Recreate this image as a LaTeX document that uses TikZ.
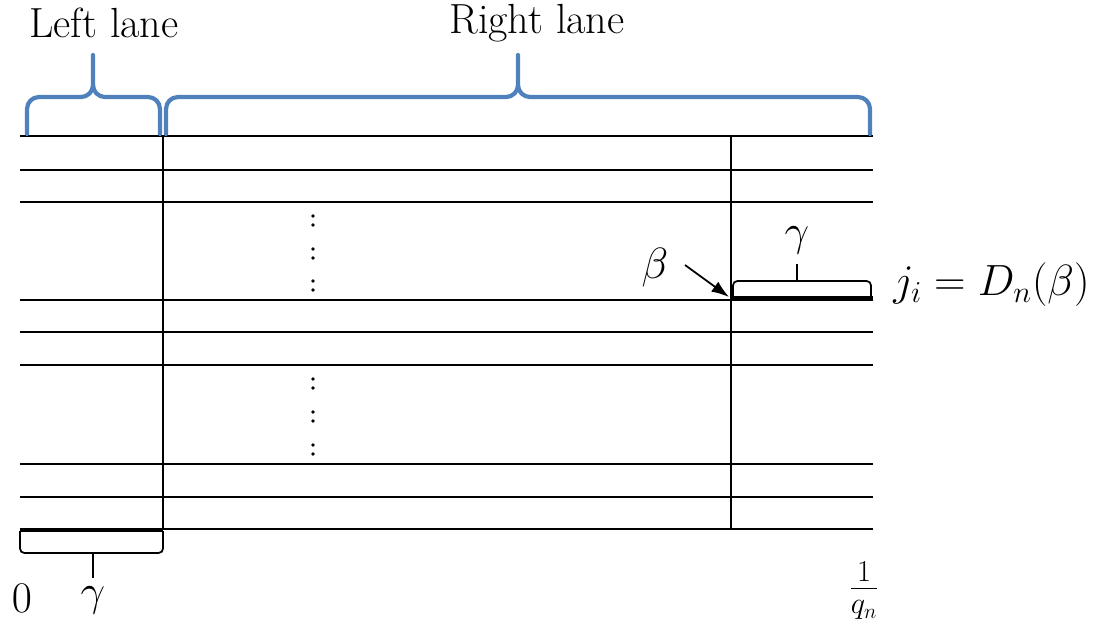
\documentclass[tikz,border=0pt]{standalone}
\usetikzlibrary{arrows.meta}
\definecolor{braceblue}{RGB}{79,129,189}
\tikzset{
  gridline/.style={line width=1.2pt},
  bluebrace/.style={draw=braceblue,line width=2.4pt,line join=round,line cap=round},
  blackbrace/.style={line width=1pt,line join=round},
  thickseg/.style={line width=2.6pt},
  lbl/.style={font=\fontsize{24}{28}\selectfont,inner sep=0pt},
  mlbl/.style={font=\fontsize{24}{28}\selectfont,inner sep=0pt},
  dotmark/.style={fill=black}
}
\begin{document}
\begin{tikzpicture}[x=0.02cm,y=-0.02cm]
\useasboundingbox (0,0) rectangle (1112,623);
% horizontal lines
\foreach \yy in {136,170,202,300,332,365,464,497,529}
  \draw[gridline] (20,\yy) -- (873,\yy);
% verticals
\coordinate (LT) at (163,136); \coordinate (LB) at (163,529);
\coordinate (RT) at (731,136); \coordinate (RB) at (731,529);
\draw[gridline] (LT) -- (LB);
\draw[gridline] (RT) -- (RB);
% vertical dots
\foreach \yy in {216,225,249,258,281,290,379,388,412,421,445,454}
  \fill[dotmark] (313,\yy) circle (1.8);
% thick segments
\draw[thickseg] (731,298) -- (873,298);
\draw[thickseg] (20,530) -- (163,530);
% blue braces
\draw[bluebrace] (27,134) -- (27,109) to[out=90,in=180] (39,97) -- (81,97)
   to[out=0,in=-90] (93,85) -- (93,55) -- (93,85) to[out=-90,in=180] (105,97)
   -- (148,97) to[out=0,in=90] (160,109) -- (160,134);
\draw[bluebrace] (166,134) -- (166,109) to[out=90,in=180] (178,97) -- (506,97)
   to[out=0,in=-90] (518,85) -- (518,55) -- (518,85) to[out=-90,in=180] (530,97)
   -- (858,97) to[out=0,in=90] (870,109) -- (870,134);
% small black braces
\draw[blackbrace,rounded corners=2.5] (733,297) -- (733,281) -- (871,281) -- (871,297);
\draw[blackbrace] (797,281) -- (797,264);
\draw[blackbrace,rounded corners=2.5] (20,531) -- (20,553) -- (163,553) -- (163,531);
\draw[blackbrace] (93,553) -- (93,578);
% labels
\node[lbl] (leftlane) at (104,23) {Left lane};
\node[lbl] (rightlane) at (537,23) {Right lane};
\node[mlbl] (gtop) at (797,240) {$\gamma$};
\node[mlbl] (beta) at (655,268) {$\beta$};
\coordinate (betatip) at (729,297);
\draw[line width=1pt,-{Latex[length=10pt,width=7pt]}] (685,265) -- (betatip);
\node[mlbl,anchor=west] (ji) at (893,285) {$j_i = D_n(\beta)$};
\node[mlbl] (zero) at (22,598) {$0$};
\node[mlbl] (gbot) at (93,600) {$\gamma$};
\node[mlbl] (qn) at (864,591) {$\frac{1}{q_n}$};
\end{tikzpicture}
\end{document}
